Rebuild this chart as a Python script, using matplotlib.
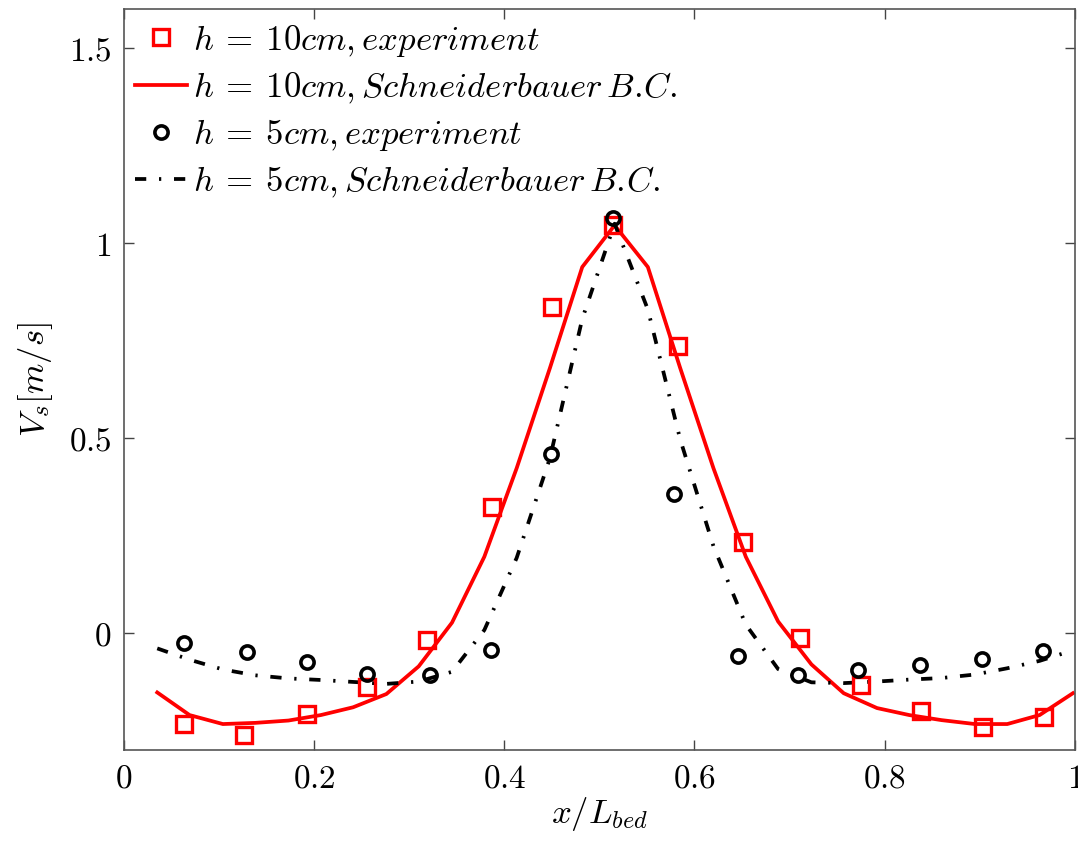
import matplotlib
matplotlib.use("Agg")
import matplotlib.pyplot as plt
from matplotlib.ticker import FuncFormatter

# experiment points
x_exp_10 = [0.063, 0.126, 0.192, 0.256, 0.319, 0.387, 0.450, 0.514,
            0.583, 0.651, 0.711, 0.775, 0.838, 0.903, 0.968]
v_exp_10 = [-0.233, -0.262, -0.208, -0.138, -0.018, 0.323, 0.836, 1.046,
            0.736, 0.233, -0.013, -0.133, -0.200, -0.241, -0.215]
x_exp_5 = [0.063, 0.129, 0.192, 0.256, 0.322, 0.386, 0.449, 0.514,
           0.579, 0.646, 0.709, 0.772, 0.837, 0.902, 0.967]
v_exp_5 = [-0.026, -0.049, -0.074, -0.105, -0.108, -0.044, 0.459, 1.064,
           0.356, -0.059, -0.108, -0.095, -0.082, -0.067, -0.046]

# simulation (Schneiderbauer B.C.)
x_sim = [0.035, 0.069, 0.104, 0.138, 0.173, 0.207, 0.241, 0.276, 0.310,
         0.345, 0.379, 0.413, 0.448, 0.482, 0.516, 0.551, 0.585, 0.620,
         0.654, 0.688, 0.723, 0.757, 0.792, 0.826, 0.860, 0.895, 0.929,
         0.963, 0.998]
v_sim_10 = [-0.152, -0.210, -0.233, -0.230, -0.224, -0.210, -0.190, -0.156,
            -0.085, 0.027, 0.196, 0.423, 0.680, 0.939, 1.046, 0.939, 0.680,
            0.423, 0.196, 0.030, -0.080, -0.154, -0.192, -0.210, -0.223,
            -0.233, -0.233, -0.210, -0.154]
v_sim_5 = [-0.039, -0.068, -0.093, -0.108, -0.116, -0.120, -0.125, -0.130,
           -0.124, -0.099, 0.008, 0.193, 0.449, 0.806, 1.050, 0.830, 0.497,
           0.223, 0.022, -0.092, -0.126, -0.128, -0.124, -0.119, -0.115,
           -0.106, -0.090, -0.071, -0.044]

labels = [r"$h\:=\:10cm, experiment$",
          r"$h\:=\:10cm, Schneiderbauer\,B.\!C.$",
          r"$h\:=\:5cm, experiment$",
          r"$h\:=\:5cm, Schneiderbauer\,B.\!C.$"]

plt.rcParams["mathtext.fontset"] = "cm"
plt.rcParams["font.family"] = "DejaVu Serif"

fig = plt.figure(figsize=(10.78, 8.41), dpi=100)
ax = fig.add_axes([0.115, 0.108, 0.882, 0.881])

ax.plot(x_exp_10, v_exp_10, "s", ms=11, mfc="none", mec="#ff0000",
        mew=2.4, label=labels[0], zorder=3)
ax.plot(x_sim, v_sim_10, "-", color="#ff0000", lw=2.7,
        label=labels[1], zorder=2)
ax.plot(x_exp_5, v_exp_5, "o", ms=9.5, mfc="none", mec="black",
        mew=2.6, label=labels[2], zorder=3)
ax.plot(x_sim, v_sim_5, color="black", lw=2.7, dashes=(3.0, 3.4, 0.6, 3.4),
        label=labels[3], zorder=2)

ax.set_xlim(0, 1)
ax.set_ylim(-0.3, 1.6)
ax.set_xticks([0, 0.2, 0.4, 0.6, 0.8, 1])
ax.set_yticks([0, 0.5, 1, 1.5])
fmt = FuncFormatter(lambda v, p: f"${v:g}$")
ax.xaxis.set_major_formatter(fmt)
ax.yaxis.set_major_formatter(fmt)
ax.tick_params(direction="in", length=7, width=1, color="#444444",
               top=True, right=True, labelsize=24, pad=9)
for s in ax.spines.values():
    s.set_color("#555555")
    s.set_linewidth(1.2)

ax.set_xlabel(r"$x/L_{bed}$", fontsize=25, labelpad=0)
ax.set_ylabel(r"$V_s[m/s]$", fontsize=25, labelpad=10)

ax.legend(loc="upper left", bbox_to_anchor=(0.012, 0.982), frameon=False,
          fontsize=25, handlelength=1.5, handletextpad=0.15,
          labelspacing=0.33, borderpad=0, borderaxespad=0)

fig.savefig("out.png", dpi=100)
